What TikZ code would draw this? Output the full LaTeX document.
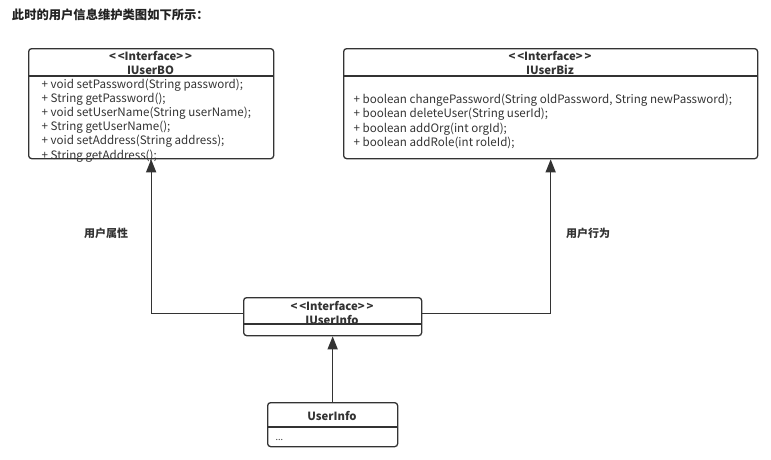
\documentclass[tikz,border=0pt]{standalone}
\usepackage{fontspec}
\setmainfont{Noto Sans CJK SC}
\usetikzlibrary{arrows.meta, positioning, calc}
\definecolor{cline}{HTML}{333333}
\definecolor{ctitle}{HTML}{222222}
\tikzset{
  every picture/.style={x=1pt, y=-1pt, line width=1.3pt, color=cline},
  cls/.style={draw=cline, rounded corners=3pt, anchor=north west, inner sep=0pt},
  head/.style={font=\fontsize{11.3}{14}\selectfont\bfseries, align=center, inner sep=0pt},
  ops/.style={font=\fontsize{11.6}{14.2}\selectfont, align=left, anchor=north west, inner sep=0pt},
  arrow/.style={-{Triangle[length=13pt, width=10pt]}, draw=cline, line width=1.3pt},
  note/.style={font=\fontsize{11}{13}\selectfont\bfseries},
}
\begin{document}
\begin{tikzpicture}
  \useasboundingbox (0,0) rectangle (771,459);
  \node[anchor=west, text=ctitle, font=\fontsize{12.3}{14}\selectfont\bfseries] (title) at (8,15) {此时的用户信息维护类图如下所示：};
  % interface IUserBO
  \node[cls, minimum width=245pt, minimum height=110pt] (bo) at (28,48) {};
  \draw ([yshift=-28pt]bo.north west) -- ([yshift=-28pt]bo.north east);
  \node[head] (bohead) at (150.5,64) {<\,<Interface>\,>\\\underline{IUserBO}};
  \node[ops] (boops) at (41,78) {+ void setPassword(String password);\\+ String getPassword();\\+ void setUserName(String userName);\\+ String getUserName();\\+ void setAddress(String address);\\+ String getAddress();};
  % interface IUserBiz
  \node[cls, minimum width=414pt, minimum height=110pt] (biz) at (343,48) {};
  \draw ([yshift=-28pt]biz.north west) -- ([yshift=-28pt]biz.north east);
  \node[head] (bizhead) at (550,64) {<\,<Interface>\,>\\\underline{IUserBiz}};
  \node[ops] (bizops) at (353,93.5) {+ boolean changePassword(String oldPassword, String newPassword);\\+ boolean deleteUser(String userId);\\+ boolean addOrg(int orgId);\\+ boolean addRole(int roleId);};
  % interface IUserInfo
  \node[cls, minimum width=178pt, minimum height=38pt] (info) at (243,297) {};
  \draw ([yshift=-27pt]info.north west) -- ([yshift=-27pt]info.north east);
  \node[head] (infohead) at (332,312.5) {<\,<Interface>\,>\\IUserInfo};
  % class UserInfo
  \node[cls, minimum width=130pt, minimum height=44pt] (ui) at (267,402) {};
  \draw ([yshift=-25pt]ui.north west) -- ([yshift=-25pt]ui.north east);
  \node[head] (uihead) at (332,416) {UserInfo};
  \node[font=\fontsize{9}{10}\selectfont, anchor=west, inner sep=0pt] (uidots) at (275,440) {...};
  % connectors
  \draw[arrow] ([yshift=3pt]info.west) -| (bo.south);
  \draw[arrow] ([yshift=3pt]info.east) -| (biz.south);
  \draw[arrow] (ui.north) -- (info.south);
  \node[note] (attr) at (106,233) {用户属性};
  \node[note] (act) at (588,233) {用户行为};
\end{tikzpicture}
\end{document}
